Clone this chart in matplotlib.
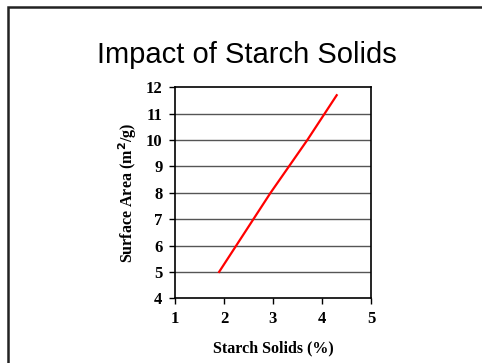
import matplotlib
matplotlib.use("Agg")
import matplotlib.pyplot as plt
from matplotlib.patches import Rectangle

starch_solids = [1.9, 2.95, 3.7, 4.3]
surface_area = [5.0, 8.0, 10.0, 11.7]
x_ticks = [1, 2, 3, 4, 5]
y_ticks = [4, 5, 6, 7, 8, 9, 10, 11, 12]

fig = plt.figure(figsize=(4.82, 3.63), dpi=100)
fig.patches.append(Rectangle((8/482, -0.1), 1.2, 1 - 7/363 + 0.1, transform=fig.transFigure,
                             fill=False, edgecolor="#222222", linewidth=1.8))
ax = fig.add_axes([175/482, 1 - 298.3/363, 196/482, 211/363])
ax.plot(starch_solids, surface_area, color="#ff0000", linewidth=1.6)
ax.set_xlim(1, 5)
ax.set_ylim(4, 12)
ax.set_xticks(x_ticks)
ax.set_yticks(y_ticks)
for y in y_ticks[1:-1]:
    ax.axhline(y, color="#555555", linewidth=1.0, zorder=0)
serif = "Liberation Serif"
ax.set_xticklabels([str(v) for v in x_ticks], fontfamily=serif, fontweight="bold", fontsize=12)
ax.set_yticklabels([str(v) for v in y_ticks], fontfamily=serif, fontweight="bold", fontsize=12)
ax.tick_params(direction="out", length=4, width=1, pad=5)
for s in ax.spines.values():
    s.set_linewidth(1.2)
ax.set_xlabel("Starch Solids (%)", fontfamily=serif, fontweight="bold", fontsize=11.5, labelpad=10)
ax.set_ylabel("Surface Area (m$^\\mathbf{2}$/g)", fontfamily=serif, fontweight="bold", fontsize=11.5, labelpad=5)
fig.text(247/482, 1 - 55/363, "Impact of Starch Solids", ha="center", va="center",
         fontfamily="Liberation Sans", fontsize=21)
fig.savefig("out.png", dpi=100)
